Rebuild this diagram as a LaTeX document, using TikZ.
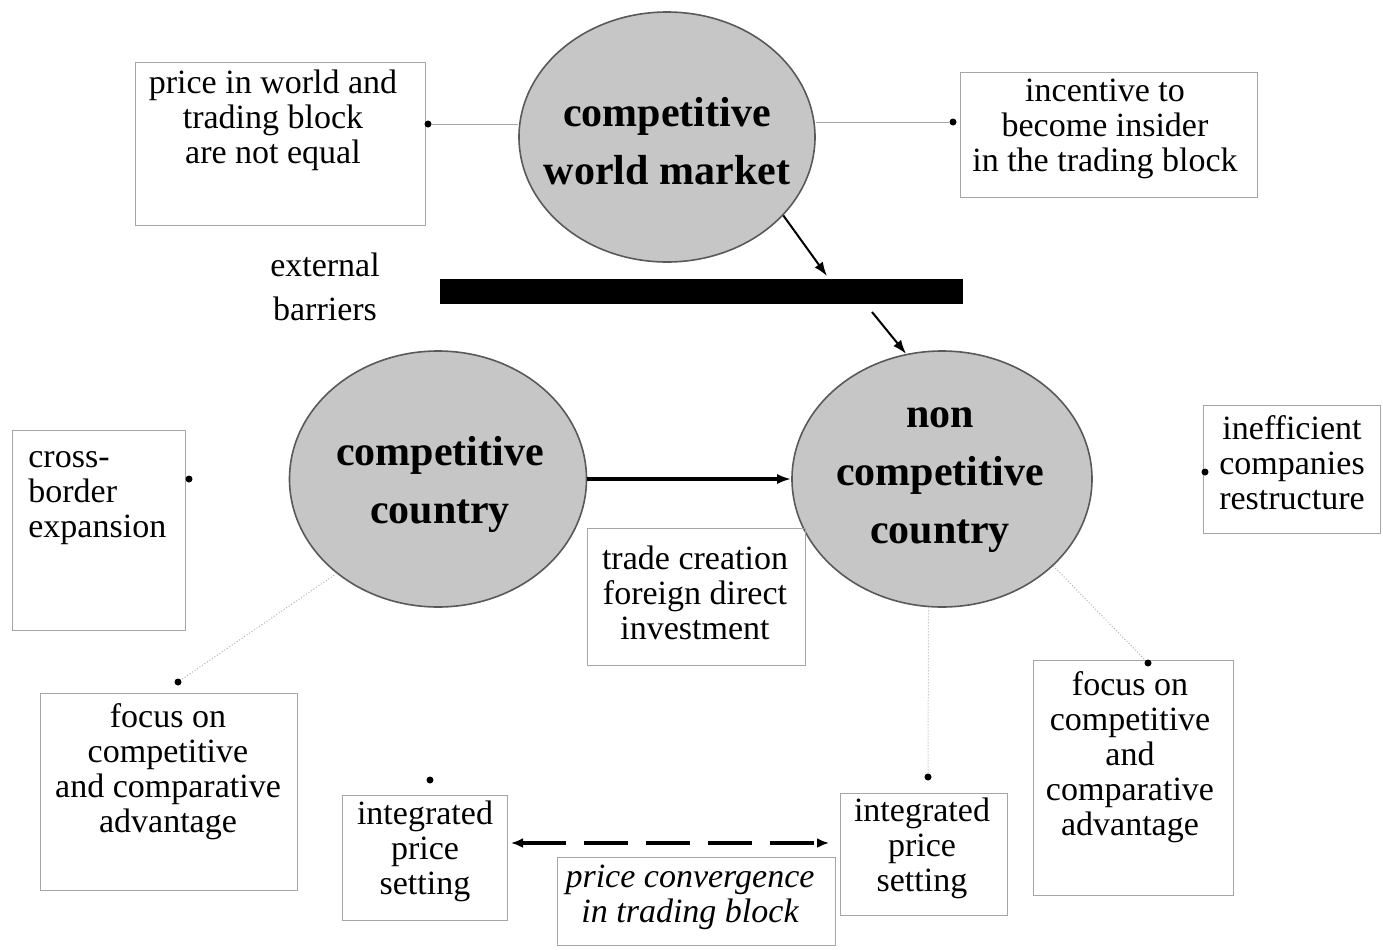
\documentclass[tikz,border=0pt]{standalone}
\usepackage{fontspec}
\setmainfont{Liberation Serif}
\usetikzlibrary{shapes.geometric,arrows.meta}
\tikzset{
  market/.style={ellipse, draw=black!65, line width=0.8pt, fill=gray!45, inner sep=0pt},
  markettext/.style={align=center, inner sep=0pt, font=\fontsize{21}{29}\selectfont\bfseries},
  boxtext/.style={align=center, anchor=north, inner sep=0pt, font=\fontsize{17}{17.5}\selectfont},
  frame/.style={draw=gray!70, line width=0.5pt},
  pin/.style={circle, fill=black, inner sep=0pt, minimum size=3.5pt},
  link/.style={draw=gray!70, line width=0.5pt},
  dotlink/.style={draw=gray!60, line width=0.5pt, densely dotted},
  arr/.style={-{Latex[length=7pt,width=5pt]}, line width=1pt}
}
\begin{document}
\begin{tikzpicture}[x=0.5pt, y=-0.5pt]
    \useasboundingbox (0,0) rectangle (1383,949);
    % the three markets
    \node[market, minimum width=148pt, minimum height=125pt] (wm) at (667,137) {};
    \node[markettext] (wmTxt) at (667,141) {competitive\\world market};
    \node[market, minimum width=148.5pt, minimum height=128pt] (cc) at (438,479) {};
    \node[markettext] (ccTxt) at (440,484) {competitive\\country};
    \node[market, minimum width=150pt, minimum height=128pt] (nc) at (942,479) {};
    \node[markettext] (ncTxt) at (940,480) {non\\competitive\\country};
    % external barrier
    \node[fill=black, minimum width=261.5pt, minimum height=12.5pt, inner sep=0pt] (bar) at (701.5,291.5) {};
    \node[boxtext, font=\fontsize{17}{22}\selectfont] (ext) at (325,253) {external\\barriers};
    \coordinate (barTop) at (827,276);
    \coordinate (barBot) at (872,312);
    \draw[arr] (wm.-34) -- (barTop);
    \draw[arr] (barBot) -- (nc.106);
    \draw[arr, line width=1.6pt] (cc.east) -- (nc.west);
    % boxes
    \draw[frame] (135,62) rectangle (425,225);
    \node[boxtext] (pw) at (273,70) {price in world and\\trading block\\are not equal};
    \draw[frame] (960,72) rectangle (1257,197);
    \node[boxtext] (inc) at (1105,79) {incentive to\\become insider\\in the trading block};
    \draw[frame] (12,430) rectangle (185,630);
    \node[boxtext, anchor=north west, align=left] (cb) at (28,451) {cross-\\border\\expansion};
    \draw[frame] (587,528) rectangle (805,665);
    \node[boxtext] (tc) at (695,545) {trade creation\\foreign direct\\investment};
    \draw[frame] (40,693) rectangle (297,890);
    \node[boxtext] (focL) at (168,703) {focus on\\competitive\\and comparative\\advantage};
    \draw[frame] (342,795) rectangle (507,920);
    \node[boxtext] (ipsL) at (425,800) {integrated\\price\\setting};
    \draw[frame] (557,857) rectangle (835,945);
    \node[boxtext, font=\fontsize{17}{17.5}\selectfont\itshape] (pc) at (690,865) {price convergence\\in trading block};
    \draw[frame] (840,793) rectangle (1007,915);
    \node[boxtext] (ipsR) at (922,797) {integrated\\price\\setting};
    \draw[frame] (1033,660) rectangle (1233,895);
    \node[boxtext] (focR) at (1130,671) {focus on\\competitive\\and\\comparative\\advantage};
    \draw[frame] (1203,405) rectangle (1380,533);
    \node[boxtext] (ine) at (1292,415) {inefficient\\companies\\restructure};
    % dots
    \node[pin] (dPw) at (428,124) {};
    \node[pin] (dInc) at (953,122) {};
    \node[pin] (dCb) at (189,479) {};
    \node[pin] (dFocL) at (178,682) {};
    \node[pin] (dIpsL) at (430,780) {};
    \node[pin] (dIpsR) at (928,777) {};
    \node[pin] (dFocR) at (1148,663) {};
    \node[pin] (dIne) at (1205,472) {};
    % connectors
    \draw[link] (dPw) -- (dPw -| wm.west);
    \draw[link] (wm.east |- dInc) -- (dInc);
    \draw[dotlink] (cc.223) -- (dFocL);
    \draw[dotlink] (nc.264) -- (dIpsR);
    \draw[dotlink] (nc.-38) -- (dFocR);
    \coordinate (convL) at (511,843);
    \coordinate (convR) at (829,843);
    \draw[{Latex[length=6pt,width=5pt]}-{Latex[length=6pt,width=5pt]}, line width=2pt, dash pattern=on 22pt off 9pt] (convL) -- (convR);
\end{tikzpicture}
\end{document}
